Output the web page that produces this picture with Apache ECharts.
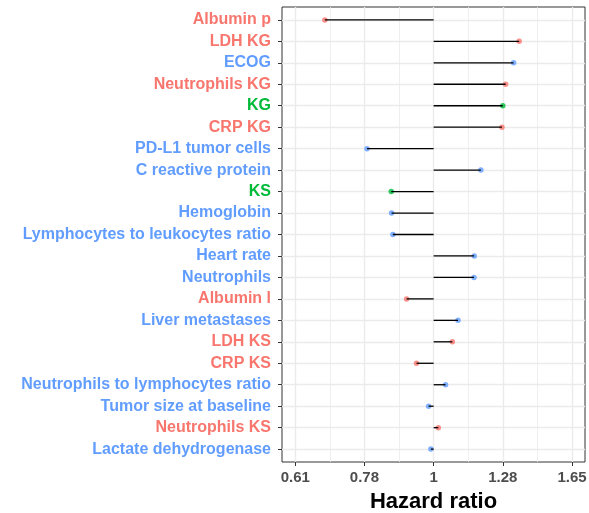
<!DOCTYPE html>
<html><head><meta charset="utf-8">
<script src="https://cdn.jsdelivr.net/npm/echarts@6/dist/echarts.min.js"></script>
<style>html,body{margin:0;padding:0;background:#fff}#c{width:589px;height:513px}</style>
</head><body><div id="c"></div>
<script>
const categories = ['Albumin p','LDH KG','ECOG','Neutrophils KG','KG','CRP KG','PD-L1 tumor cells','C reactive protein','KS','Hemoglobin','Lymphocytes to leukocytes ratio','Heart rate','Neutrophils','Albumin l','Liver metastases','LDH KS','CRP KS','Neutrophils to lymphocytes ratio','Tumor size at baseline','Neutrophils KS','Lactate dehydrogenase'];
const hazardRatios = [0.675,1.362,1.335,1.297,1.284,1.280,0.786,1.186,0.858,0.859,0.863,1.158,1.157,0.907,1.092,1.070,0.940,1.044,0.982,1.017,0.990];
const groups = ['r','r','b','r','g','r','b','b','g','b','b','b','b','r','b','r','r','b','b','r','b'];
const groupColors = {r:'#F8766D', b:'#619CFF', g:'#00BA38'};
const tickLabels = ['0.61','0.78','1','1.28','1.65'];
const tickLogPos = [-0.5,-0.25,0,0.25,0.5];
const minorLogPos = [-0.375,-0.125,0.125,0.375];

const rowIdx = categories.map((c,i)=>i);
const pts = hazardRatios.map((h,i)=>({value:[Math.log(h), i], itemStyle:{color:groupColors[groups[i]]}}));
const segs = hazardRatios.map((h,i)=>[Math.log(h), i]);

const chart = echarts.init(document.getElementById('c'));
const xmin = -0.548, xmax = 0.547;
chart.setOption({
  animation:false,
  backgroundColor:'#fff',
  grid:{left:282, right:4, top:7, bottom:51, show:true, borderColor:'#333333', borderWidth:1, backgroundColor:'transparent', outerBoundsMode:'none', containLabel:false},
  xAxis:[{
    type:'value', min:xmin, max:xmax,
    name:'Hazard ratio', nameLocation:'middle', nameGap:29,
    nameTextStyle:{fontFamily:'Liberation Sans', fontWeight:'bold', fontSize:22, color:'#000'},
    axisLine:{show:false, onZero:false},
    axisTick:{show:true, customValues:tickLogPos, length:4, lineStyle:{color:'#333333', width:1}},
    axisLabel:{customValues:tickLogPos, margin:8, fontFamily:'Liberation Sans', fontWeight:'bold', fontSize:15, color:'#4D4D4D',
      formatter:(v)=>{const k=tickLogPos.findIndex(t=>Math.abs(t-v)<1e-9);return k>=0?tickLabels[k]:'';}},
    splitLine:{show:true, lineStyle:{color:'#EBEBEB', width:1.4}}
  },{
    type:'value', min:xmin, max:xmax, position:'bottom',
    axisLine:{show:false, onZero:false}, axisLabel:{show:false},
    axisTick:{show:false, customValues:minorLogPos},
    splitLine:{show:true, lineStyle:{color:'#EBEBEB', width:0.8}}
  }],
  yAxis:{
    type:'value', inverse:true, min:-0.6, max:categories.length-1+0.6,
    axisLine:{show:false, onZero:false},
    axisTick:{show:true, customValues:rowIdx, length:4, lineStyle:{color:'#333333', width:1}},
    axisLabel:{customValues:rowIdx, margin:11, fontFamily:'Liberation Sans', fontWeight:'bold', fontSize:16,
      formatter:(v)=>categories[Math.round(v)],
      color:(v)=>groupColors[groups[Math.round(Number(v))]]},
    splitLine:{show:true, lineStyle:{color:'#EBEBEB', width:1.4}}
  },
  series:[{
    type:'scatter', xAxisIndex:0, data:pts, symbolSize:5.5, z:2
  },{
    type:'custom', xAxisIndex:0, data:segs, z:3,
    renderItem:(params, api)=>{
      const a = api.coord([0, api.value(1)]);
      const b = api.coord([api.value(0), api.value(1)]);
      return {type:'line', shape:{x1:a[0], y1:a[1], x2:b[0], y2:b[1]}, style:{stroke:'#000', lineWidth:1.3}};
    }
  }]
});
</script></body></html>
